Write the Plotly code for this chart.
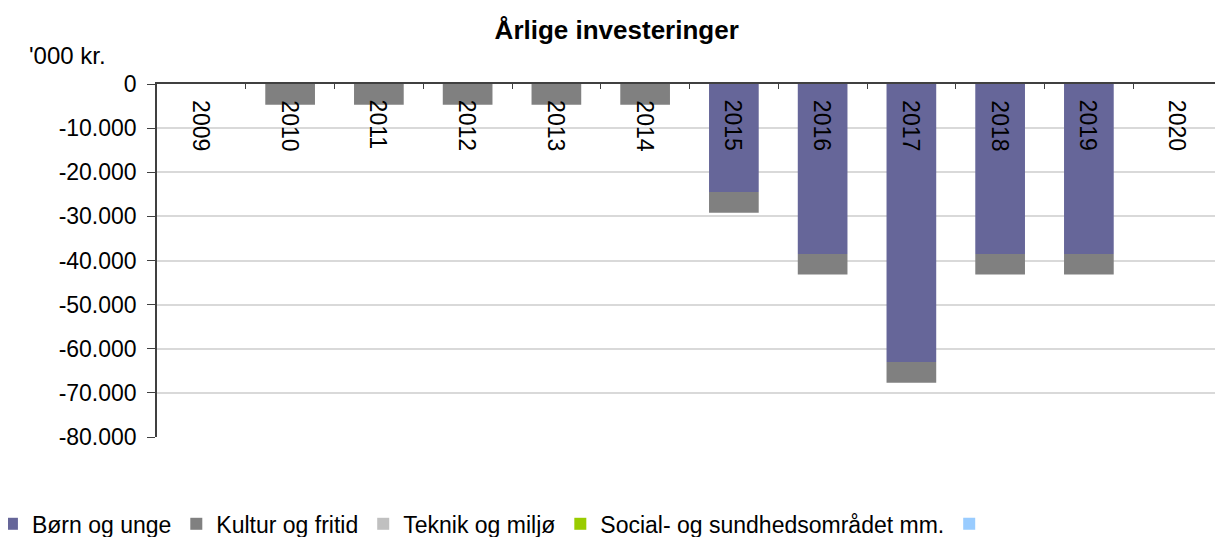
import plotly.graph_objects as go

years = ["2009", "2010", "2011", "2012", "2013", "2014", "2015", "2016", "2017", "2018", "2019", "2020"]
born_og_unge = [0, 0, 0, 0, 0, 0, -24500, -38500, -63000, -38500, -38500, 0]
kultur_og_fritid = [0, -4700, -4700, -4700, -4700, -4700, -4700, -4700, -4700, -4700, -4700, 0]
teknik_og_miljo = [0] * 12
social_og_sundhed = [0] * 12
unnamed = [0] * 12

series_names = ["Børn og unge", "Kultur og fritid", "Teknik og miljø", "Social- og sundhedsområdet mm.", " "]
series_colors = ["#666699", "#808080", "#C0C0C0", "#99CC00", "#99CCFF"]
series_values = [born_og_unge, kultur_og_fritid, teknik_og_miljo, social_og_sundhed, unnamed]

ytick_vals = [0, -10000, -20000, -30000, -40000, -50000, -60000, -70000, -80000]
ytick_text = ["0", "-10.000", "-20.000", "-30.000", "-40.000", "-50.000", "-60.000", "-70.000", "-80.000"]

FONT = "Liberation Sans, Arial, sans-serif"

fig = go.Figure()
for name, color, vals in zip(series_names, series_colors, series_values):
    fig.add_trace(go.Bar(x=years, y=vals, name=name, marker=dict(color=color, line=dict(width=0)),
                         showlegend=True))

fig.update_layout(
    barmode="relative",
    bargap=0.44,
    width=1215, height=529,
    margin=dict(l=149, r=1, t=76, b=100, autoexpand=False),
    plot_bgcolor="white", paper_bgcolor="white",
    font=dict(family=FONT, color="black", size=22),
    title=dict(text="<b>Årlige investeringer</b>", x=0.501, xanchor="center", y=0.958, yanchor="middle",
               font=dict(family=FONT, size=26, color="black")),
    legend=dict(orientation="h", x=-0.155, xanchor="left", y=-0.246, yanchor="middle",
                font=dict(family=FONT, size=23, color="black"), itemwidth=30,
                traceorder="normal", tracegroupgap=0),
    showlegend=True,
)

fig.update_xaxes(
    side="top", type="category", categoryorder="array", categoryarray=years,
    showticklabels=False, automargin=False,
    ticks="inside", tickson="boundaries", ticklen=5, tickcolor="#404040",
    showline=True, linecolor="#404040", linewidth=1.5,
    showgrid=False, fixedrange=True,
)
fig.update_yaxes(
    range=[-80000, 0], tickvals=ytick_vals, ticktext=ytick_text, automargin=False,
    ticks="outside", ticklen=8, tickcolor="#404040",
    showline=True, linecolor="#404040", linewidth=1.5,
    showgrid=True, gridcolor="#D9D9D9", gridwidth=1.5,
    zeroline=False, tickfont=dict(family=FONT, size=23, color="black"),
    ticklabelstandoff=6,
)

for i, yr in enumerate(years):
    fig.add_annotation(text=yr, x=i, y=0, xref="x", yref="y", textangle=90,
                       xanchor="center", yanchor="top", yshift=-14, showarrow=False,
                       font=dict(family=FONT, size=23, color="black"))

fig.add_annotation(text="'000 kr.", xref="paper", yref="paper", x=-0.122, y=1.0,
                   xanchor="left", yanchor="bottom", yshift=13, showarrow=False,
                   font=dict(family=FONT, size=24, color="black"))

fig.write_html("out.html")
